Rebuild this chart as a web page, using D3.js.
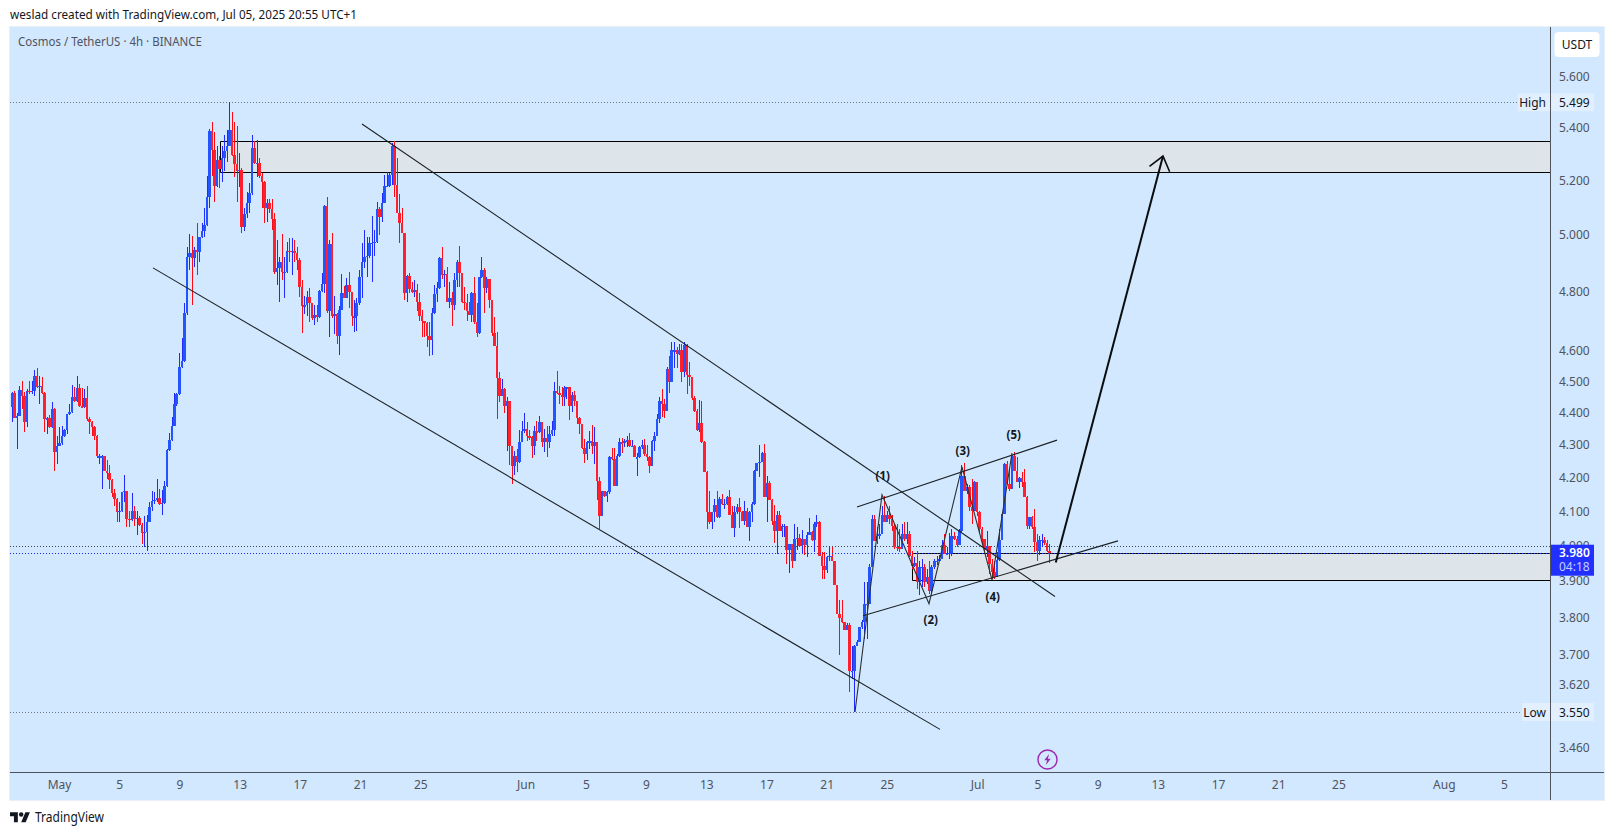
<!DOCTYPE html>
<html><head><meta charset="utf-8">
<script src="https://cdn.jsdelivr.net/npm/d3@7"></script>
<style>
html,body{margin:0;padding:0;background:#fff;overflow:hidden}
svg{display:block}
text{font-family:"Noto Sans",sans-serif}
</style></head><body><svg id="c" width="1614" height="835"></svg>
<script>
const firstOpen = 4.419;
const closes = [
4.463,4.384,4.390,4.473,4.453,4.372,4.470,4.466,4.470,4.518,
4.482,4.486,4.463,4.381,4.384,4.356,4.412,4.278,4.297,4.306,
4.327,4.346,4.397,4.403,4.450,4.438,4.479,4.422,4.419,4.447,
4.381,4.372,4.356,4.327,4.266,4.266,4.266,4.220,4.214,4.193,
4.155,4.137,4.098,4.101,4.158,4.161,4.078,4.075,4.101,4.078,
4.081,4.061,4.037,4.040,4.069,4.113,4.131,4.134,4.140,4.122,
4.125,4.175,4.284,4.315,4.359,4.428,4.460,4.547,4.566,4.726,
4.922,4.936,4.919,4.947,4.940,4.994,5.015,5.037,5.139,5.388,
5.315,5.180,5.277,5.243,5.285,5.311,5.330,5.391,5.296,5.262,
5.235,5.239,5.030,5.077,5.117,5.154,5.323,5.266,5.266,5.217,
5.195,5.099,5.117,5.095,5.059,4.870,4.884,4.905,4.870,4.870,
4.944,4.940,4.944,4.937,4.912,4.818,4.750,4.753,4.783,4.760,
4.709,4.719,4.713,4.804,4.828,5.106,4.733,4.969,4.716,4.723,
4.649,4.739,4.796,4.780,4.825,4.800,4.716,4.716,4.763,4.852,
4.902,4.922,4.926,4.972,4.972,4.976,5.095,5.066,5.117,5.180,
5.180,5.221,5.330,5.184,5.080,5.044,5.008,4.796,4.856,4.811,
4.800,4.807,4.766,4.716,4.699,4.693,4.649,4.636,4.726,4.793,
4.814,4.919,4.859,4.863,4.766,4.780,4.756,4.842,4.905,4.866,
4.766,4.760,4.733,4.719,4.796,4.696,4.659,4.852,4.877,4.814,
4.845,4.770,4.659,4.616,4.511,4.453,4.476,4.422,4.438,4.297,
4.236,4.266,4.248,4.309,4.343,4.350,4.327,4.324,4.297,4.343,
4.340,4.372,4.309,4.321,4.309,4.333,4.346,4.470,4.463,4.457,
4.450,4.479,4.482,4.422,4.457,4.438,4.384,4.366,4.290,4.272,
4.309,4.312,4.297,4.309,4.190,4.087,4.161,4.146,4.158,4.263,
4.257,4.175,4.266,4.309,4.306,4.312,4.315,4.297,4.297,4.263,
4.263,4.294,4.300,4.272,4.263,4.236,4.312,4.327,4.381,4.438,
4.428,4.406,4.540,4.498,4.602,4.602,4.589,4.602,4.531,4.619,
4.521,4.514,4.447,4.406,4.346,4.369,4.309,4.217,4.098,4.069,
4.098,4.119,4.084,4.137,4.122,4.122,4.143,4.090,4.052,4.098,
4.113,4.098,4.072,4.101,4.055,4.098,4.122,4.220,4.245,4.248,
4.275,4.143,4.184,4.134,4.072,4.043,4.090,4.043,4.058,4.058,
3.989,4.006,3.957,4.020,4.023,4.000,4.020,4.003,4.032,4.040,
4.017,4.064,4.069,3.972,3.943,3.931,3.969,3.972,3.955,3.889,
3.810,3.799,3.788,3.766,3.780,3.657,3.657,3.723,3.734,3.774,
3.788,3.837,3.837,3.940,4.078,4.014,4.029,4.035,4.090,4.069,
4.090,4.078,4.058,3.997,3.995,3.992,4.035,4.020,4.035,3.972,
3.943,3.952,3.898,3.940,3.940,3.898,3.912,3.873,3.940,3.955,
3.957,3.963,4.003,3.977,3.977,3.980,4.029,4.020,4.003,4.043,
4.205,4.161,4.172,4.113,4.101,4.187,4.098,4.049,4.020,3.992,
4.000,3.949,3.926,3.912,3.960,4.017,4.093,4.242,4.181,4.167,
4.266,4.220,4.187,4.199,4.187,4.143,4.058,4.084,4.055,4.012,
3.986,4.017,4.017,4.009,3.986,3.980];
const highs = [
4.466,4.470,4.400,4.486,4.502,4.466,4.476,4.502,4.502,4.537,
4.544,4.518,4.514,4.466,4.387,4.394,4.435,4.416,4.327,4.356,
4.359,4.350,4.397,4.428,4.489,4.482,4.518,4.492,4.479,4.476,
4.486,4.387,4.375,4.359,4.330,4.272,4.269,4.266,4.254,4.239,
4.196,4.167,4.140,4.128,4.158,4.208,4.161,4.101,4.155,4.116,
4.101,4.087,4.066,4.087,4.090,4.128,4.161,4.158,4.196,4.167,
4.164,4.190,4.287,4.337,4.387,4.463,4.463,4.592,4.642,4.760,
4.955,5.004,4.997,4.955,5.044,4.994,5.044,5.099,5.217,5.395,
5.422,5.384,5.330,5.292,5.330,5.372,5.391,5.499,5.461,5.422,
5.407,5.303,5.247,5.099,5.158,5.191,5.372,5.349,5.353,5.285,
5.228,5.198,5.132,5.132,5.132,5.080,4.983,4.922,5.004,4.922,
4.976,4.990,4.990,4.983,4.958,4.916,4.839,4.786,4.804,4.814,
4.760,4.753,4.756,4.807,4.866,5.110,5.139,4.983,5.008,4.786,
4.729,4.750,4.863,4.821,4.849,4.870,4.800,4.773,4.780,4.877,
4.972,5.019,4.994,4.994,5.070,5.019,5.121,5.102,5.154,5.221,
5.232,5.228,5.342,5.349,5.285,5.150,5.099,5.008,4.859,4.866,
4.835,4.842,4.828,4.796,4.736,4.696,4.696,4.696,4.743,4.825,
4.835,4.922,4.958,4.877,4.887,4.832,4.800,4.866,4.912,4.962,
4.866,4.818,4.793,4.766,4.800,4.852,4.763,4.852,4.922,4.884,
4.852,4.845,4.773,4.713,4.662,4.531,4.508,4.479,4.450,4.422,
4.294,4.281,4.287,4.346,4.375,4.400,4.372,4.346,4.327,4.359,
4.375,4.390,4.372,4.350,4.359,4.359,4.375,4.498,4.534,4.486,
4.482,4.486,4.482,4.482,4.466,4.470,4.438,4.387,4.366,4.318,
4.312,4.343,4.362,4.356,4.309,4.202,4.161,4.161,4.161,4.266,
4.290,4.290,4.272,4.321,4.321,4.318,4.327,4.337,4.315,4.300,
4.275,4.297,4.315,4.318,4.300,4.266,4.315,4.340,4.397,4.450,
4.476,4.444,4.547,4.583,4.629,4.629,4.612,4.622,4.622,4.629,
4.622,4.563,4.514,4.453,4.412,4.441,4.438,4.312,4.220,4.161,
4.098,4.137,4.161,4.143,4.152,4.137,4.146,4.164,4.116,4.116,
4.122,4.140,4.101,4.131,4.110,4.101,4.128,4.223,4.245,4.300,
4.278,4.303,4.205,4.190,4.137,4.119,4.101,4.101,4.064,4.064,
4.058,4.006,4.006,4.064,4.055,4.035,4.046,4.020,4.040,4.081,
4.043,4.069,4.090,4.072,3.983,3.983,3.972,3.997,3.995,3.955,
3.889,3.846,3.846,3.788,3.783,3.783,3.721,3.726,3.737,3.774,
3.791,3.898,3.898,3.949,4.090,4.090,4.055,4.064,4.116,4.146,
4.101,4.116,4.090,4.064,4.064,4.049,4.064,4.069,4.069,4.043,
3.986,3.969,3.986,3.955,3.963,3.949,3.934,3.955,3.946,3.963,
3.972,3.974,4.017,4.035,3.997,4.037,4.049,4.040,4.029,4.049,
4.239,4.245,4.181,4.178,4.196,4.190,4.187,4.101,4.055,4.020,
4.043,3.992,3.963,3.957,3.983,4.049,4.096,4.245,4.251,4.226,
4.269,4.278,4.263,4.202,4.217,4.226,4.146,4.084,4.087,4.107,
4.035,4.029,4.035,4.026,4.017,4.006];
const lows = [
4.372,4.384,4.287,4.390,4.412,4.340,4.356,4.460,4.460,4.453,
4.479,4.428,4.460,4.340,4.333,4.353,4.353,4.220,4.242,4.297,
4.300,4.324,4.333,4.394,4.400,4.435,4.435,4.419,4.416,4.416,
4.375,4.333,4.327,4.315,4.260,4.242,4.167,4.220,4.196,4.167,
4.143,4.116,4.069,4.069,4.098,4.128,4.055,4.055,4.072,4.058,
4.032,4.058,4.006,3.997,3.986,4.069,4.101,4.122,4.128,4.119,
4.090,4.122,4.172,4.281,4.312,4.359,4.422,4.457,4.544,4.563,
4.719,4.877,4.753,4.887,4.859,4.902,4.990,4.994,5.033,5.099,
5.217,5.121,5.176,5.172,5.195,5.235,5.270,5.330,5.292,5.213,
5.121,5.176,5.008,5.015,5.062,5.080,5.147,5.262,5.213,5.209,
5.099,5.044,5.048,5.080,5.019,4.863,4.825,4.766,4.839,4.780,
4.866,4.902,4.859,4.905,4.877,4.783,4.659,4.723,4.716,4.696,
4.703,4.686,4.696,4.709,4.800,4.796,4.729,4.646,4.709,4.656,
4.622,4.586,4.736,4.780,4.780,4.746,4.683,4.662,4.665,4.756,
4.780,4.884,4.852,4.919,4.835,4.926,4.972,5.001,5.048,5.117,
5.176,5.176,5.184,5.139,5.080,4.972,5.008,4.773,4.766,4.796,
4.796,4.783,4.733,4.699,4.646,4.646,4.612,4.583,4.586,4.723,
4.766,4.811,4.845,4.818,4.766,4.746,4.683,4.739,4.818,4.818,
4.760,4.739,4.699,4.719,4.696,4.689,4.646,4.656,4.849,4.729,
4.796,4.746,4.649,4.616,4.381,4.435,4.453,4.400,4.281,4.239,
4.181,4.208,4.217,4.245,4.309,4.337,4.312,4.315,4.260,4.269,
4.312,4.337,4.294,4.278,4.263,4.290,4.327,4.327,4.460,4.428,
4.422,4.422,4.444,4.378,4.403,4.422,4.366,4.333,4.287,4.245,
4.254,4.287,4.272,4.242,4.134,4.049,4.087,4.143,4.128,4.152,
4.254,4.175,4.175,4.263,4.275,4.294,4.294,4.294,4.294,4.263,
4.205,4.260,4.287,4.266,4.251,4.214,4.236,4.281,4.327,4.369,
4.387,4.384,4.406,4.463,4.498,4.544,4.544,4.586,4.498,4.514,
4.460,4.486,4.441,4.403,4.343,4.340,4.306,4.217,4.049,4.064,
4.049,4.069,4.081,4.081,4.119,4.107,4.119,4.090,4.052,4.026,
4.093,4.052,4.072,4.061,4.055,4.014,4.069,4.119,4.220,4.202,
4.248,4.143,4.069,4.134,4.061,4.009,3.977,4.043,4.026,4.026,
3.949,3.923,3.937,3.957,3.989,3.997,3.977,3.974,3.969,4.032,
4.014,3.983,4.055,3.972,3.906,3.906,3.923,3.957,3.955,3.889,
3.810,3.697,3.783,3.766,3.766,3.602,3.636,3.550,3.723,3.734,
3.769,3.742,3.742,3.837,3.940,4.014,4.006,4.020,4.035,4.069,
4.069,4.064,4.043,3.992,3.986,3.983,3.992,4.014,4.006,3.969,
3.934,3.940,3.878,3.862,3.884,3.884,3.892,3.865,3.865,3.934,
3.946,3.955,3.963,3.977,3.974,3.963,3.972,4.017,3.997,4.009,
4.040,4.161,4.152,4.101,4.064,4.107,4.087,4.040,4.006,3.983,
3.969,3.920,3.906,3.906,3.912,3.955,4.017,4.093,4.178,4.161,
4.172,4.220,4.187,4.170,4.172,4.143,4.049,4.049,4.049,3.983,
3.957,3.974,3.997,4.003,3.983,3.952];

const yTickValues = [5.6,5.4,5.2,5.0,4.8,4.6,4.5,4.4,4.3,4.2,4.1,4.0,3.9,3.8,3.7,3.62,3.46];
const xTickDates = ["2025-05-01","2025-05-05","2025-05-09","2025-05-13","2025-05-17","2025-05-21","2025-05-25",
"2025-06-01","2025-06-05","2025-06-09","2025-06-13","2025-06-17","2025-06-21","2025-06-25",
"2025-07-01","2025-07-05","2025-07-09","2025-07-13","2025-07-17","2025-07-21","2025-07-25",
"2025-08-01","2025-08-05"];
const xTickLabels = ["May","5","9","13","17","21","25","Jun","5","9","13","17","21","25","Jul","5","9","13","17","21","25","Aug","5"];

const highPrice = 5.499, lowPrice = 3.55, lastPrice = 3.98, refPrice = 4.0;
const countdown = "04:18";
// drawings: [candle index, price]
const channelUpper = [[140.2,5.414],[417.4,3.857]];
const channelLower = [[56.6,4.883],[371.4,3.506]];
const risingUpper = [[338.2,4.113],[418.2,4.315]];
const risingLower = [[340.6,3.804],[442.6,4.014]];
const waveZigzag = [[337.4,3.55],[348.2,4.149],[367,3.837],[380.2,4.233],[392.2,3.903],[400.2,4.275]];
const forecastArrow = [[417.7,3.952],[460.6,5.291]];
const zones = [{from:83.5,top:5.348,bottom:5.229},{from:360.2,top:3.98,bottom:3.902}];
const waveLabels = [["(1)",348.5,4.202],["(2)",367.7,3.79],["(3)",380.5,4.28],["(4)",392.5,3.854],["(5)",400.9,4.327]];

const svg = d3.select("#c");
const plotL=10, plotR=1550, plotT=27, plotB=772, outerR=1604, outerB=800;
const xt = d3.scaleUtc().domain([new Date(Date.UTC(2025,4,1)),new Date(Date.UTC(2025,7,5))]).range([59,1504]);
const xi = d3.scaleLinear().domain([0,closes.length-1]).range([11.5,1049]);
const y = d3.scaleLog().domain([5.6,3.55]).range([77,712]);

// frame
svg.append("rect").attr("x",9.5).attr("y",26.5).attr("width",outerR-9).attr("height",outerB-26).attr("fill","#d1e8ff").attr("stroke","#e9eff5");
svg.append("text").attr("x",10).attr("y",19).attr("font-size",12.4).attr("textLength",347).attr("lengthAdjust","spacingAndGlyphs").attr("fill","#131722").text("weslad created with TradingView.com, Jul 05, 2025 20:55 UTC+1");

const defs = svg.append("defs");
defs.append("clipPath").attr("id","plot").append("rect").attr("x",plotL).attr("y",plotT).attr("width",plotR-plotL).attr("height",plotB-plotT);
const g = svg.append("g").attr("clip-path","url(#plot)");

// dotted lines
const dotted = [[highPrice,"#6f7a85"],[refPrice,"#3c4650"],[lowPrice,"#6f7a85"]];
g.selectAll("line.dot").data(dotted).join("line").attr("class","dot")
 .attr("x1",plotL).attr("x2",plotR).attr("y1",d=>Math.round(y(d[0]))+.5).attr("y2",d=>Math.round(y(d[0]))+.5)
 .attr("stroke",d=>d[1]).attr("stroke-dasharray","1 2");

// zones
const zg = g.append("g");
zones.forEach(z=>{
  const x0=xi(z.from), a=Math.round(y(z.top))+.5, b=Math.round(y(z.bottom))+.5;
  zg.append("rect").attr("x",x0).attr("y",a).attr("width",plotR-x0).attr("height",b-a).attr("fill","#dde4ea");
  zg.append("path").attr("d",`M${plotR},${a}H${Math.round(x0)+.5}V${b}H${plotR}`).attr("fill","none").attr("stroke","#000").attr("stroke-width",1);
});

// candles
const candles = closes.map((c,i)=>({i,c,h:highs[i],l:lows[i],o:i?closes[i-1]:firstOpen}));
const BLUE="#2454ff",RED="#ff1f2d",WB="#1f2bff",WR="#ff0a14";
const cg = g.append("g").attr("shape-rendering","crispEdges");
cg.selectAll("rect.w").data(candles).join("rect").attr("class","w")
 .attr("x",d=>Math.round(xi(d.i))).attr("width",1)
 .attr("y",d=>y(d.h)).attr("height",d=>Math.max(1,y(d.l)-y(d.h)))
 .attr("fill",d=>d.c>=d.o?WB:WR);
const bodyX0=d=>Math.round(xi(d.i)-1), bodyX1=d=>Math.round(xi(d.i)+1.7);
cg.selectAll("rect.b").data(candles).join("rect").attr("class","b")
 .attr("x",bodyX0).attr("width",d=>bodyX1(d)-bodyX0(d))
 .attr("y",d=>Math.min(y(d.o),y(d.c))).attr("height",d=>Math.max(1.5,Math.abs(y(d.o)-y(d.c))))
 .attr("fill",d=>d.c>=d.o?BLUE:RED);

// last price line
g.append("line").attr("x1",plotL).attr("x2",plotR).attr("y1",Math.round(y(lastPrice))+.5).attr("y2",Math.round(y(lastPrice))+.5)
 .attr("stroke","#1f2bff").attr("stroke-dasharray","1 2");

// drawings
const ln = d3.line().x(d=>xi(d[0])).y(d=>y(d[1]));
[channelUpper,channelLower,risingUpper,risingLower].forEach(p=>{
  g.append("path").attr("d",ln(p)).attr("fill","none").attr("stroke","#1c2226").attr("stroke-width",1.1);
});
g.append("path").attr("d",ln(waveZigzag)).attr("fill","none").attr("stroke","#2a3034").attr("stroke-width",1.1);
g.append("path").attr("d",ln(forecastArrow)).attr("fill","none").attr("stroke","#0a0d10").attr("stroke-width",2);
{
  const [a,b]=forecastArrow, ax=xi(a[0]),ay=y(a[1]),bx=xi(b[0]),by=y(b[1]);
  const ang=Math.atan2(by-ay,bx-ax), L=17, sp=0.66;
  const w=s=>[bx-L*Math.cos(ang+s),by-L*Math.sin(ang+s)];
  const p1=w(sp),p2=w(-sp);
  g.append("path").attr("d",`M${p1}L${bx},${by}L${p2}`).attr("fill","none").attr("stroke","#0a0d10").attr("stroke-width",1.6);
}
g.selectAll("text.w").data(waveLabels).join("text").attr("class","w")
 .attr("x",d=>xi(d[1])).attr("y",d=>y(d[2])).attr("text-anchor","middle").attr("font-size",11.5)
 .attr("font-weight",700).attr("fill","#131722").attr("dominant-baseline","middle").text(d=>d[0]);

// axes
const ya = svg.append("g").attr("transform",`translate(${plotR},0)`).call(d3.axisRight(y).tickValues(yTickValues).tickSize(0).tickPadding(9).tickFormat(d3.format(".3f")));
ya.select(".domain").remove();
ya.selectAll("text").attr("fill","#50535e").attr("font-size",12).attr("font-family",'"Noto Sans",sans-serif');
const labelByDate = new Map(xTickDates.map((d,i)=>[+new Date(d+"T00:00:00Z"),xTickLabels[i]]));
const xa = svg.append("g").attr("transform",`translate(0,${plotB})`).call(d3.axisBottom(xt).tickValues(xTickDates.map(d=>new Date(d+"T00:00:00Z"))).tickSize(0).tickPadding(8).tickFormat(d=>labelByDate.get(+d)));
xa.select(".domain").remove();
xa.selectAll("text").attr("fill","#50535e").attr("font-size",12).attr("font-family",'"Noto Sans",sans-serif');
svg.append("line").attr("x1",plotR+.5).attr("x2",plotR+.5).attr("y1",plotT).attr("y2",outerB).attr("stroke","#50535e");
svg.append("line").attr("x1",plotL).attr("x2",outerR).attr("y1",plotB+.5).attr("y2",plotB+.5).attr("stroke","#50535e");

// legend
svg.append("text").attr("x",18).attr("y",46).attr("font-size",12.4).attr("textLength",184).attr("lengthAdjust","spacingAndGlyphs").attr("fill","#50535e").text("Cosmos / TetherUS · 4h · BINANCE");

// USDT button
svg.append("rect").attr("x",1554.5).attr("y",32).attr("width",45).attr("height",25).attr("rx",4).attr("fill","#fff");
svg.append("text").attr("x",1577).attr("y",49).attr("text-anchor","middle").attr("font-size",12).attr("fill","#131722").text("USDT");

// High / Low tags
[["High",highPrice],["Low",lowPrice]].forEach(([t,p])=>{
  const c=y(p);
  svg.append("rect").attr("x",t=="High"?1518:1522).attr("y",c-9).attr("width",t=="High"?32:28).attr("height",18).attr("fill","#e1efff");
  svg.append("rect").attr("x",1551).attr("y",c-9).attr("width",43).attr("height",18).attr("fill","#e1efff");
  svg.append("text").attr("x",1546).attr("y",c+4.5).attr("text-anchor","end").attr("font-size",12).attr("fill","#131722").text(t);
  svg.append("text").attr("x",1559).attr("y",c+4.5).attr("font-size",12).attr("fill","#131722").text(d3.format(".3f")(p));
});

// price tag
const ty=y(lastPrice);
svg.append("rect").attr("x",1551).attr("y",ty-8).attr("width",43).attr("height",31).attr("fill","#2230ff");
svg.append("text").attr("x",1559).attr("y",ty+4.5).attr("font-size",12).attr("font-weight",600).attr("fill","#fff").text(d3.format(".3f")(lastPrice));
svg.append("text").attr("x",1559).attr("y",ty+18.5).attr("font-size",12).attr("fill","#c8ccff").text(countdown);

// flash icon
const ic=svg.append("g").attr("transform","translate(1047.5,759.5)");
ic.append("circle").attr("r",9.5).attr("fill","none").attr("stroke","#9c27b0").attr("stroke-width",1.4);
ic.append("path").attr("d","M1.6,-5.6L-3.2,0.8H-0.4L-1.6,5.6L3.2,-0.8H0.4Z").attr("fill","#9c27b0");

// logo
const lg=svg.append("g").attr("transform","translate(10,810) scale(0.56)").attr("fill","#131722");
lg.append("path").attr("d","M14 22H7V11H0V4h14v18zM28 22h-8l7.5-18h8L28 22z");
lg.append("circle").attr("cx",20).attr("cy",8).attr("r",4);
svg.append("text").attr("x",35).attr("y",822).attr("font-size",13.5).attr("textLength",69).attr("lengthAdjust","spacingAndGlyphs").attr("fill","#131722").text("TradingView");
</script></body></html>
